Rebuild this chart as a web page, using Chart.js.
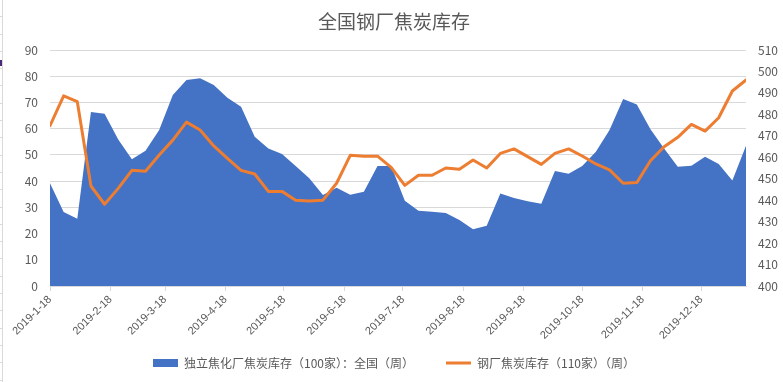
<!DOCTYPE html>
<html>
<head>
<meta charset="utf-8">
<script src="https://cdn.jsdelivr.net/npm/chart.js@4.4.1/dist/chart.umd.min.js"></script>
<style>
html,body{margin:0;padding:0;background:#fff;}
#wrap{position:relative;width:783px;height:382px;overflow:hidden;}
#c{position:absolute;left:0;top:0;}
#edge{position:absolute;left:0;top:0;width:2px;height:382px;border-right:1px solid #d9d9d9;
  background:repeating-linear-gradient(to bottom, transparent 0, transparent 16.3px, #d9d9d9 16.3px, #d9d9d9 17.3px);}
#mark{position:absolute;left:0;top:60px;width:2px;height:6px;background:#4b2a7b;}
</style>
</head>
<body>
<div id="wrap">
  <canvas id="c" width="783" height="382"></canvas>
  <div id="edge"></div>
  <div id="mark"></div>
</div>
<script>
// ---- data ----
const weekDates = [
  '2019-01-18','2019-01-25','2019-02-01','2019-02-08','2019-02-15','2019-02-22',
  '2019-03-01','2019-03-08','2019-03-15','2019-03-22','2019-03-29',
  '2019-04-05','2019-04-12','2019-04-19','2019-04-26',
  '2019-05-03','2019-05-10','2019-05-17','2019-05-24','2019-05-31',
  '2019-06-07','2019-06-14','2019-06-21','2019-06-28',
  '2019-07-05','2019-07-12','2019-07-19','2019-07-26',
  '2019-08-02','2019-08-09','2019-08-16','2019-08-23','2019-08-30',
  '2019-09-06','2019-09-13','2019-09-20','2019-09-27',
  '2019-10-04','2019-10-11','2019-10-18','2019-10-25',
  '2019-11-01','2019-11-08','2019-11-15','2019-11-22','2019-11-29',
  '2019-12-06','2019-12-13','2019-12-20','2019-12-27',
  '2020-01-03','2020-01-10'
];
const cokingPlantStock = [
  39.2, 28.2, 25.6, 66.4, 65.7, 55.9, 48.3, 51.6, 59.5, 72.8, 78.6,
  79.2, 76.7, 71.8, 68.4, 56.9, 52.4, 50.3, 45.8, 41.1,
  34.7, 37.5, 34.8, 35.9, 45.8, 45.8, 32.5, 28.7,
  28.3, 27.8, 25.2, 21.6, 23.0, 35.3, 33.6, 32.3, 31.4,
  43.9, 42.8, 45.8, 51.2, 59.5, 71.3, 69.2, 59.8, 52.4,
  45.5, 45.9, 49.3, 46.5, 40.2, 53.5
];
const steelMillStock = [
  474.7, 488.6, 485.9, 446.6, 438.1, 445.5, 453.9, 453.5, 461.1, 468.0, 476.4,
  472.7, 465.3, 459.5, 453.9, 452.2, 444.1, 444.1, 440.0, 439.6,
  440.0, 447.9, 460.9, 460.5, 460.5, 455.3, 446.9, 451.6,
  451.6, 455.0, 454.4, 458.7, 455.0, 461.8, 463.9, 460.3, 456.7,
  461.8, 463.9, 460.6, 456.9, 454.1, 447.9, 448.2, 458.4, 464.9,
  469.3, 475.3, 472.2, 478.4, 490.9, 496.0
];
const monthTickLabels = [
  '2019-1-18','2019-2-18','2019-3-18','2019-4-18','2019-5-18','2019-6-18',
  '2019-7-18','2019-8-18','2019-9-18','2019-10-18','2019-11-18','2019-12-18'
];
const seriesNames = ['独立焦化厂焦炭库存（100家）：全国（周）', '钢厂焦炭库存（110家）（周）'];
const chartTitle = '全国钢厂焦炭库存';

// ---- helpers ----
function dayNum(s) {
  const p = s.split('-').map(Number);
  return Date.UTC(p[0], p[1] - 1, p[2]) / 86400000;
}
const origin = dayNum(weekDates[0]);
const xs = weekDates.map(d => dayNum(d) - origin);
const tickPos = monthTickLabels.map(d => dayNum(d) - origin);

const areaData = xs.map((x, i) => ({x: x, y: cokingPlantStock[i]}));
const lineData = xs.map((x, i) => ({x: x, y: steelMillStock[i]}));

const grey = '#595959';
const gridColor = '#d9d9d9';
const fontFam = "'Noto Sans CJK SC', 'Noto Sans', sans-serif";
const latinFam = "'Liberation Sans', Arial, Helvetica, sans-serif";

new Chart(document.getElementById('c'), {
  type: 'line',
  data: {
    datasets: [
      {
        label: seriesNames[0],
        data: areaData,
        yAxisID: 'y',
        fill: 'origin',
        backgroundColor: '#4472C4',
        borderColor: '#4472C4',
        borderWidth: 0,
        pointRadius: 0,
        pointStyle: 'rect',
        tension: 0,
        order: 2
      },
      {
        label: seriesNames[1],
        data: lineData,
        yAxisID: 'y1',
        fill: false,
        borderColor: '#ED7D31',
        backgroundColor: '#ED7D31',
        borderWidth: 3,
        borderJoinStyle: 'round',
        borderCapStyle: 'round',
        pointRadius: 0,
        pointStyle: 'line',
        tension: 0,
        order: 1
      }
    ]
  },
  options: {
    responsive: false,
    animation: false,
    layout: { padding: { left: 5, right: 0, top: 0, bottom: 3 } },
    plugins: {
      title: {
        display: true,
        text: chartTitle,
        color: grey,
        font: { family: fontFam, size: 19, weight: 'normal' },
        padding: { top: 10, bottom: 17.2 }
      },
      legend: {
        display: true,
        position: 'bottom',
        labels: {
          usePointStyle: true,
          pointStyleWidth: 25,
          boxHeight: 8,
          padding: 14,
          color: grey,
          font: { family: fontFam, size: 12 },
          sort: (a, b) => a.datasetIndex - b.datasetIndex,
          generateLabels: (chart) => {
            const items = Chart.defaults.plugins.legend.labels.generateLabels(chart);
            // widen the gap after the first entry with invisible ideographic spaces
            items.forEach(it => { if (it.datasetIndex === 0) it.text = it.text + '\u3000\u3000'; });
            return items;
          }
        }
      },
      tooltip: { enabled: false }
    },
    scales: {
      x: {
        type: 'linear',
        min: xs[0],
        max: xs[xs.length - 1],
        afterBuildTicks: (scale) => {
          scale.ticks = tickPos.map(v => ({ value: v }));
        },
        afterFit: (scale) => { scale.height = 57; },
        ticks: {
          autoSkip: false,
          minRotation: 45,
          maxRotation: 45,
          padding: 2,
          color: grey,
          font: { family: latinFam, size: 11 },
          callback: (value) => {
            const idx = tickPos.indexOf(value);
            return idx >= 0 ? monthTickLabels[idx] : '';
          }
        },
        grid: {
          drawOnChartArea: false,
          drawTicks: true,
          tickLength: 5,
          color: gridColor
        },
        border: { display: true, color: gridColor }
      },
      y: {
        position: 'left',
        min: 0,
        max: 90,
        afterFit: (scale) => { scale.width = 45; },
        ticks: {
          stepSize: 10,
          padding: 12,
          color: grey,
          font: { family: fontFam, size: 12 }
        },
        grid: { color: gridColor, drawTicks: false },
        border: { display: false }
      },
      y1: {
        position: 'right',
        min: 400,
        max: 510,
        afterFit: (scale) => { scale.width = 37; },
        ticks: {
          stepSize: 10,
          padding: 12,
          color: grey,
          font: { family: fontFam, size: 12 }
        },
        grid: { drawOnChartArea: false, drawTicks: false },
        border: { display: false }
      }
    }
  }
});
</script>
</body>
</html>
